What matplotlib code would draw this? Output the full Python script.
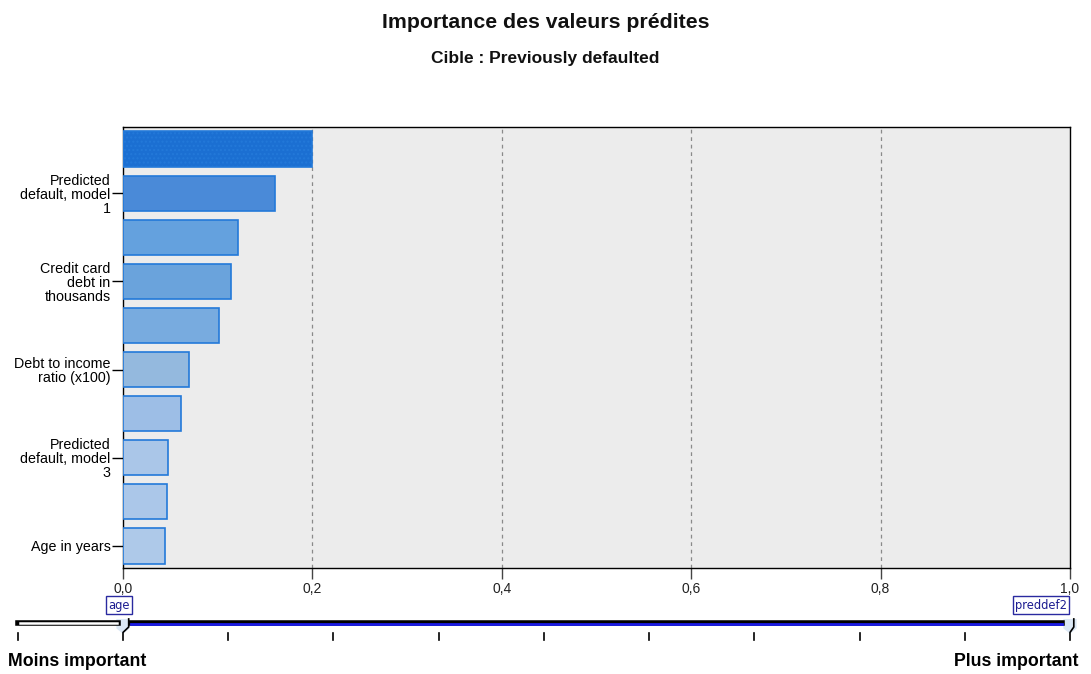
import numpy as np
import matplotlib.pyplot as plt
import matplotlib.transforms as mtransforms
from matplotlib.patches import Polygon

plt.rcParams['font.family'] = ['Liberation Sans', 'DejaVu Sans']
plt.rcParams['hatch.color'] = '#1660c0'

# ==================== données ====================
# importance de chaque prédicteur, du plus important au moins important
labels = ['', 'Predicted\ndefault, model\n1', '', 'Credit card\ndebt in\nthousands', '',
          'Debt to income\nratio (x100)', '', 'Predicted\ndefault, model\n3', '', 'Age in years']
importance = [0.200, 0.160, 0.121, 0.114, 0.101, 0.070, 0.061, 0.048, 0.046, 0.044]
bar_colors = ['#1b6fd2', '#4a8ad8', '#64a1de', '#6aa3dc', '#78abdf',
              '#94b9de', '#9dbee6', '#aac6e8', '#abc7e9', '#aec9e9']
xticks = [0.0, 0.2, 0.4, 0.6, 0.8, 1.0]
xtick_labels = ['0,0', '0,2', '0,4', '0,6', '0,8', '1,0']
low_name, high_name = 'age', 'preddef2'
# =================================================

fig = plt.figure(figsize=(10.91, 6.74), dpi=100)
fig.patch.set_facecolor('white')

ax = fig.add_axes([123 / 1091, 1 - 568 / 674, 947 / 1091, 441 / 674])
ax.set_facecolor('#ececec')

y = np.arange(len(importance))
bars = ax.barh(y, importance, height=0.8, color=bar_colors, edgecolor='#2379d9', linewidth=1.2, zorder=3)
bars[0].set_hatch('....')

ax.set_xlim(0, 1.0)
ax.set_ylim(len(importance) - 0.5, -0.5)
ax.set_xticks(xticks)
ax.set_xticklabels(xtick_labels, fontsize=10, color='#222222')
shown = [i for i, l in enumerate(labels) if l]
ax.set_yticks(shown)
ax.set_yticklabels([labels[i] for i in shown], fontsize=10.3, linespacing=1.0, color='#111111')
ax.tick_params(axis='y', length=8, width=1, pad=1, colors='black')
ax.tick_params(axis='x', length=8, width=1, pad=2, color='#444444')
for xv in xticks[1:-1]:
    ax.axvline(xv, color='#8a8a8a', linestyle=(0, (3, 3)), linewidth=0.9, zorder=2)
for s in ax.spines.values():
    s.set_color('black')
    s.set_linewidth(1)

# titres
fig.text(0.5, 1 - 22 / 674, 'Importance des valeurs prédites', ha='center', va='center',
         fontsize=15.3, fontweight='bold', color='#111111')
fig.text(0.5, 1 - 59 / 674, 'Cible : Previously defaulted', ha='center', va='center',
         fontsize=12.5, fontweight='bold', color='#111111')

# ==================== curseur d'importance ====================
tr = mtransforms.blended_transform_factory(ax.transData, fig.transFigure)
ys = 1 - 623 / 674
step = 1 / 9
left_end = -step
# partie gauche (blanche)
fig.add_artist(plt.Line2D([left_end, -0.005], [ys, ys], transform=tr, color='black', lw=4, clip_on=False))
fig.add_artist(plt.Line2D([left_end + 0.002, -0.006], [ys, ys], transform=tr, color='white', lw=1.8, clip_on=False))
# partie droite (bleue)
fig.add_artist(plt.Line2D([0.008, 0.992], [ys, ys], transform=tr, color='black', lw=4, clip_on=False))
fig.add_artist(plt.Line2D([0.008, 0.992], [ys - 0.0012, ys - 0.0012], transform=tr, color='#1a1ae6', lw=2, clip_on=False))

# graduations
t_lo, t_hi = 1 - 640 / 674, 1 - 633 / 674
for k in range(-1, 10):
    if k in (0, 9):
        continue
    xv = k * step
    fig.add_artist(plt.Line2D([xv, xv], [t_lo, t_hi], transform=tr, color='black', lw=1.2, clip_on=False))
# poignées aux extrémités
for xv, d in [(0.0, 1), (1.0, -1)]:
    w = 0.007
    poly = Polygon([[xv - w, ys + 0.006], [xv + w, ys + 0.006], [xv + w, ys - 0.008],
                    [xv, ys - 0.016], [xv - w, ys - 0.008]],
                   closed=True, transform=tr, facecolor='#dce8f5', edgecolor='none', clip_on=False)
    fig.add_artist(poly)
    xs = xv + 0.006 if d == 1 else xv + 0.004
    fig.add_artist(plt.Line2D([xv, xv, xs, xs], [t_lo, ys - 0.014, ys - 0.006, ys + 0.006],
                              transform=tr, color='black', lw=1.2, clip_on=False))

box = dict(boxstyle='square,pad=0.2', facecolor='white', edgecolor='#2a2aa0', linewidth=1)
fig.text(0.007, 1 - 605 / 674, low_name, transform=tr, ha='right', va='center', fontsize=8.3,
         color='#1c1c90', bbox=box, family='DejaVu Sans')
fig.text(0.997, 1 - 605 / 674, high_name, transform=tr, ha='right', va='center', fontsize=8.3,
         color='#1c1c90', bbox=box, family='DejaVu Sans')

fig.text(8 / 1091, 1 - 662 / 674, 'Moins important', ha='left', va='center', fontsize=12.8, fontweight='bold')
fig.text(1078 / 1091, 1 - 662 / 674, 'Plus important', ha='right', va='center', fontsize=12.8, fontweight='bold')

plt.savefig('out.png', dpi=100)
